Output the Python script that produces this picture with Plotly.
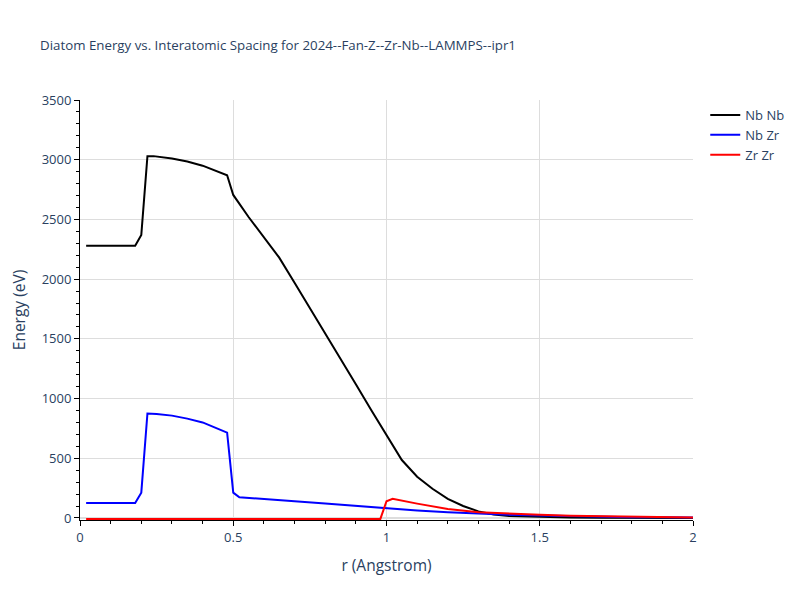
import plotly.graph_objects as go

nbnb_r = [0.02, 0.18, 0.2, 0.22, 0.24, 0.3, 0.35, 0.4, 0.48, 0.5, 0.55, 0.6, 0.65, 0.7, 0.75,
          0.8, 0.85, 0.9, 0.95, 1.0, 1.05, 1.1, 1.15, 1.2, 1.25, 1.3, 1.35, 1.4, 1.5, 1.6,
          1.7, 1.8, 1.9, 2.0]
nbnb_e = [2280, 2280, 2370, 3030, 3030, 3010, 2985, 2950, 2870, 2705, 2520, 2350, 2180, 1970, 1760,
          1545, 1335, 1120, 905, 695, 485, 345, 245, 160, 100, 55, 30, 17, 7, 3,
          1, 0, 0, 0]

nbzr_r = [0.02, 0.18, 0.2, 0.22, 0.25, 0.3, 0.35, 0.4, 0.48, 0.5, 0.52, 0.6, 0.7, 0.8, 0.9,
          1.0, 1.1, 1.2, 1.3, 1.4, 1.5, 1.6, 1.7, 1.8, 1.9, 2.0]
nbzr_e = [125, 125, 212, 875, 870, 857, 832, 800, 715, 212, 173, 160, 141, 121, 100,
          79, 62, 48, 36, 27, 20, 14, 10, 7, 5, 3]

zrzr_r = [0.02, 0.98, 1.0, 1.02, 1.1, 1.2, 1.3, 1.4, 1.5, 1.6, 1.7, 1.8, 1.9, 2.0]
zrzr_e = [-8, -8, 140, 160, 120, 75, 48, 34, 26, 18, 13, 9, 6, 4]

series = [("Nb Nb", nbnb_r, nbnb_e, "black"),
          ("Nb Zr", nbzr_r, nbzr_e, "blue"),
          ("Zr Zr", zrzr_r, zrzr_e, "red")]

fig = go.Figure()
for name, r, e, c in series:
    fig.add_trace(go.Scatter(x=r, y=e, mode="lines", name=name,
                             line=dict(color=c, width=2)))

axis_common = dict(showline=True, linecolor="black", linewidth=1, ticks="outside",
                   tickcolor="black", showgrid=True, gridcolor="#dddddd",
                   zeroline=True, zerolinecolor="#dddddd", zerolinewidth=2,
                   tickfont=dict(size=13, color="#2a3f5f"), automargin=False)

# page body has an 8px margin; figure sized so the plot area sits where the reference has it
fig.update_layout(
    width=784, height=584, autosize=False,
    paper_bgcolor="white", plot_bgcolor="white",
    margin=dict(l=72, r=99, t=92, b=72, autoexpand=False),
    title=dict(text="Diatom Energy vs. Interatomic Spacing for 2024--Fan-Z--Zr-Nb--LAMMPS--ipr1",
               x=32 / 784, xanchor="left", y=1 - 37 / 584, yanchor="middle",
               font=dict(size=13.3, color="#2a3f5f")),
    font=dict(color="#2a3f5f"),
    legend=dict(x=1.02, y=1, font=dict(size=13)),
    xaxis=dict(title=dict(text="r (Angstrom)", font=dict(size=15.5)), range=[0, 2], dtick=0.5,
               minor=dict(dtick=0.1, ticks="outside", tickcolor="black", showgrid=False),
               **axis_common),
    yaxis=dict(title=dict(text="Energy (eV)", font=dict(size=15.5)), range=[-17, 3500], dtick=500,
               minor=dict(dtick=100, ticks="outside", tickcolor="black", showgrid=False),
               **axis_common),
)

fig.write_html("out.html")
